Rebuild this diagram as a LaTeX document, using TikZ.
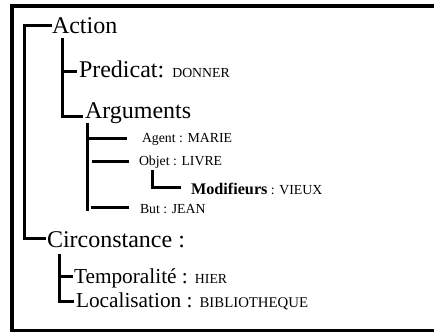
\documentclass[tikz,border=0pt]{standalone}
\usepackage{fontspec}
\setmainfont{Liberation Serif}
\newcommand{\valtxt}[1]{{\fontsize{13.8}{16}\selectfont #1}}
\begin{document}
\begin{tikzpicture}[x=1pt,y=-1pt,
  lbl/.style={anchor=base west,inner sep=0pt,outer sep=0pt},
  big/.style={lbl,font=\fontsize{24}{28}\selectfont},
  mid/.style={lbl,font=\fontsize{21.3}{25}\selectfont},
  small/.style={lbl,font=\fontsize{13.8}{16}\selectfont},
  tree/.style={line width=3pt,line join=miter},
  frame/.style={line width=4pt}]
\useasboundingbox (0,0) rectangle (434,332);
\clip (0,0) rectangle (434,332);
\fill[white] (0,0) rectangle (434,332);
\draw[frame] (440,6) -- (12,6) -- (12,330.5) -- (440,330.5);

% labels
\node[big] (action) at (52,34) {Action};
\node[big] (pred) at (79,77) {Predicat: \valtxt{DONNER}};
\node[big] (args) at (85,118) {Arguments};
\node[small] (agent) at (142,142) {Agent : MARIE};
\node[small] (objet) at (139,165) {Objet : LIVRE};
\node[lbl] (modif) at (191,194) {{\fontsize{16.2}{19}\selectfont\bfseries Modifieurs}\valtxt{ : VIEUX}};
\node[small] (but) at (140,213) {But : JEAN};
\node[big] (circ) at (47,247) {Circonstance :};
\node[mid] (temp) at (74,283) {Temporalité : \valtxt{HIER}};
\node[mid] (loc) at (76,307) {Localisation : {\fontsize{14.8}{17}\selectfont BIBLIOTHEQUE}};

% main tree
\coordinate (c0) at (24,25);
\coordinate (c1) at (24,238);
\draw[tree] (action.base west |- c0) -- (c0) -- (c1) -- ([xshift=-1.5pt]circ.base west |- c1);

% action subtree
\coordinate (d0) at (62,38);
\coordinate (d1) at (62,71);
\coordinate (d2) at (62,116);
\draw[tree] (d0) -- (d2) -- ([xshift=-2pt]args.base west |- d2);
\draw[tree] (d1) -- ([xshift=-2pt]pred.base west |- d1);

% arguments subtree
\coordinate (e0) at (87,123);
\coordinate (e1) at (87,211);
\coordinate (eA) at (87,138.5);
\coordinate (eO) at (92,161.5);
\coordinate (eB) at (91,207.5);
\draw[tree] (e0) -- (e1);
\draw[tree] (eA) -- ([xshift=-15pt]agent.base west |- eA);
\draw[tree] (eO) -- ([xshift=-10pt]objet.base west |- eO);
\draw[tree] (eB) -- ([xshift=-11pt]but.base west |- eB);

% modifieurs
\coordinate (f0) at (152,170);
\coordinate (f1) at (152,187.5);
\draw[tree] (f0) -- (f1) -- ([xshift=-10pt]modif.base west |- f1);

% circonstance subtree
\coordinate (g0) at (59,254);
\coordinate (g1) at (59,276.5);
\coordinate (g2) at (59,301);
\draw[tree] (g0) -- (g2) -- ([xshift=-2pt]loc.base west |- g2);
\draw[tree] (g1) -- ([xshift=-1.5pt]temp.base west |- g1);
\end{tikzpicture}
\end{document}
